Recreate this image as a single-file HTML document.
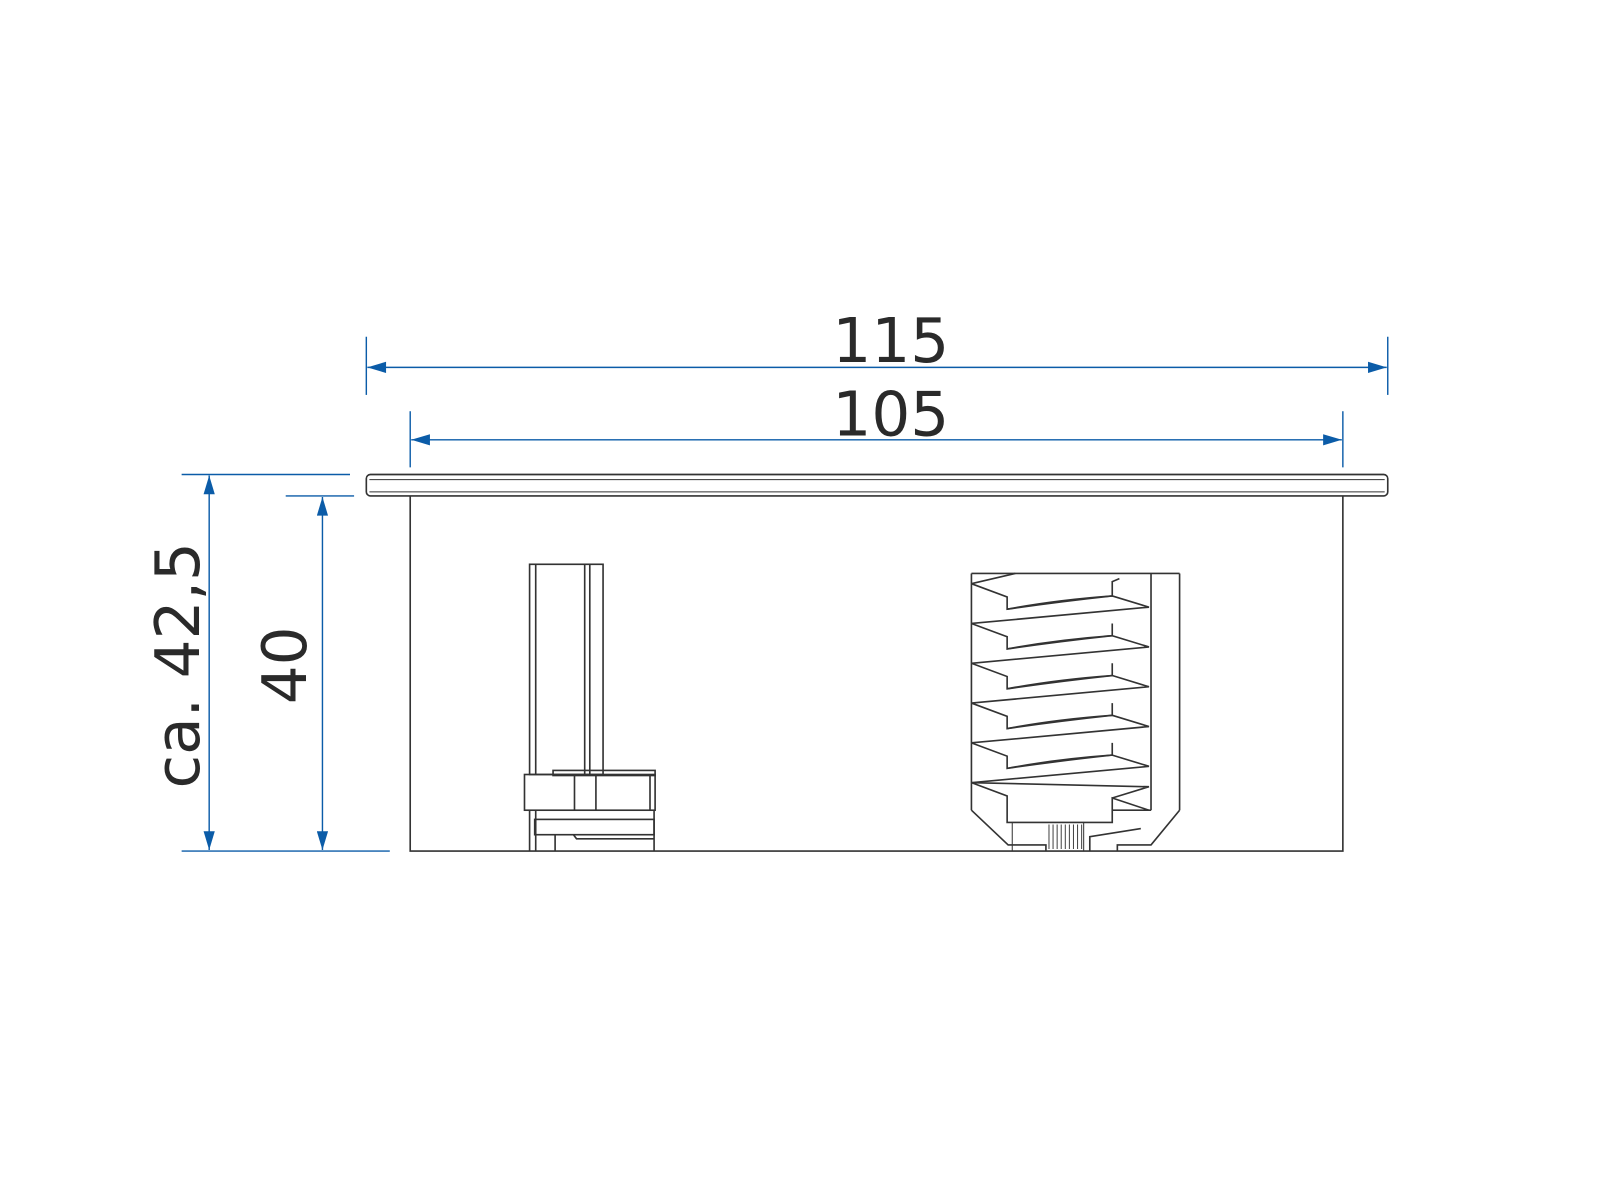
<!DOCTYPE html>
<html><head><style>body{margin:0;background:#fff}svg{display:block}</style></head><body>
<svg width="1600" height="1179" viewBox="0 0 1568 1155.4" xmlns="http://www.w3.org/2000/svg">
<defs>
<marker id="a" viewBox="0 0 10 6" refX="10" refY="3" markerWidth="22" markerHeight="11" markerUnits="userSpaceOnUse" orient="auto-start-reverse"><path d="M0,0L10,3L0,6z" fill="#0b5ca8"/></marker>
</defs>
<g stroke="#0b5ca8" stroke-width="1.4" fill="none">
<line x1="359" y1="330" x2="359" y2="387"/><line x1="1360" y1="330" x2="1360" y2="387"/>
<line x1="360" y1="360" x2="1359" y2="360" marker-start="url(#a)" marker-end="url(#a)"/>
<line x1="402" y1="403" x2="402" y2="458"/><line x1="1316" y1="403" x2="1316" y2="458"/>
<line x1="403" y1="431" x2="1315" y2="431" marker-start="url(#a)" marker-end="url(#a)"/>
<line x1="178" y1="465" x2="343" y2="465"/><line x1="280" y1="486" x2="347" y2="486"/><line x1="178" y1="834" x2="382" y2="834"/>
<line x1="205" y1="466" x2="205" y2="833" marker-start="url(#a)" marker-end="url(#a)"/>
<line x1="316" y1="487" x2="316" y2="833" marker-start="url(#a)" marker-end="url(#a)"/>
</g>
<g font-family="DejaVu Sans, Liberation Sans, sans-serif" font-size="60" fill="#2a2a2a" text-anchor="middle">
<text x="873" y="355">115</text><text x="873" y="427">105</text>
<text transform="translate(195,652) rotate(-90)">ca. 42,5</text>
<text transform="translate(300,652) rotate(-90)">40</text>
</g>
<g stroke="#333" stroke-width="1.6" fill="none">
<rect x="359" y="465" width="1001" height="21" rx="4"/>
<line x1="362" y1="470" x2="1357" y2="470" stroke-width="1"/><line x1="362" y1="482" x2="1357" y2="482" stroke-width="1"/>
<polyline points="402,486 402,834 1316,834 1316,486"/>
<!-- clamp -->
<rect x="519" y="553" width="72" height="206"/>
<line x1="525" y1="553" x2="525" y2="759"/><line x1="573" y1="553" x2="573" y2="759"/><line x1="578" y1="553" x2="578" y2="759"/>
<rect x="542" y="755" width="100" height="5"/>
<rect x="514" y="759" width="128" height="35"/>
<line x1="563" y1="759" x2="563" y2="794"/><line x1="584" y1="759" x2="584" y2="794"/><line x1="637" y1="759" x2="637" y2="794"/>
<line x1="519" y1="794" x2="519" y2="834"/><line x1="525" y1="794" x2="525" y2="834"/>
<rect x="524" y="803" width="117" height="15"/>
<line x1="544" y1="818" x2="544" y2="834"/><polyline points="562,818 565,822 641,822"/>
<line x1="641" y1="794" x2="641" y2="834"/>
<!-- screw -->
<line x1="952" y1="562" x2="1156" y2="562"/>
<line x1="952" y1="562" x2="952" y2="794"/><line x1="1156" y1="562" x2="1156" y2="794"/>
<line x1="1128" y1="562" x2="1128" y2="794"/>
<path d="M952,572 L995,562 M952,572 L987,585 V597 Q1035,588 1090,584 V570 L1097,567"/>
<path d="M1090,584 L1126,595 L952,611 L987,624 V636 Q1035,627 1090,623 V611 M987,597 Q1035,590 1090,584"/>
<path d="M1090,623 L1126,634 L952,650 L987,663 V675 Q1035,666 1090,662 V650 M987,636 Q1035,629 1090,623"/>
<path d="M1090,662 L1126,673 L952,689 L987,702 V714 Q1035,705 1090,701 V689 M987,675 Q1035,668 1090,662"/>
<path d="M1090,701 L1126,712 L952,728 L987,741 V753 Q1035,744 1090,740 V728 M987,714 Q1035,707 1090,701"/>
<path d="M1090,740 L1126,751 L952,767 L987,780 V806 H1090 V782 L1126,794 M987,753 Q1035,746 1090,740"/>
<path d="M1090,782 L1126,771 L952,767"/>
<polyline points="952,794 988,828 1025,828 1025,834"/>
<polyline points="1156,794 1128,828 1095,828 1095,834"/>
<polyline points="1068,834 1068,820 1118,812"/>
<line x1="1090" y1="794" x2="1128" y2="794"/>
</g>
<rect x="992" y="806" width="70" height="28" fill="none" stroke="#333" stroke-width="1"/>
<g stroke="#444" stroke-width="1">
<path d="M1028,808V832M1032,808V832M1036,808V832M1040,808V832M1044,808V832M1048,808V832M1052,808V832M1056,808V832M1060,808V832"/>
</g>
</svg>
</body></html>
